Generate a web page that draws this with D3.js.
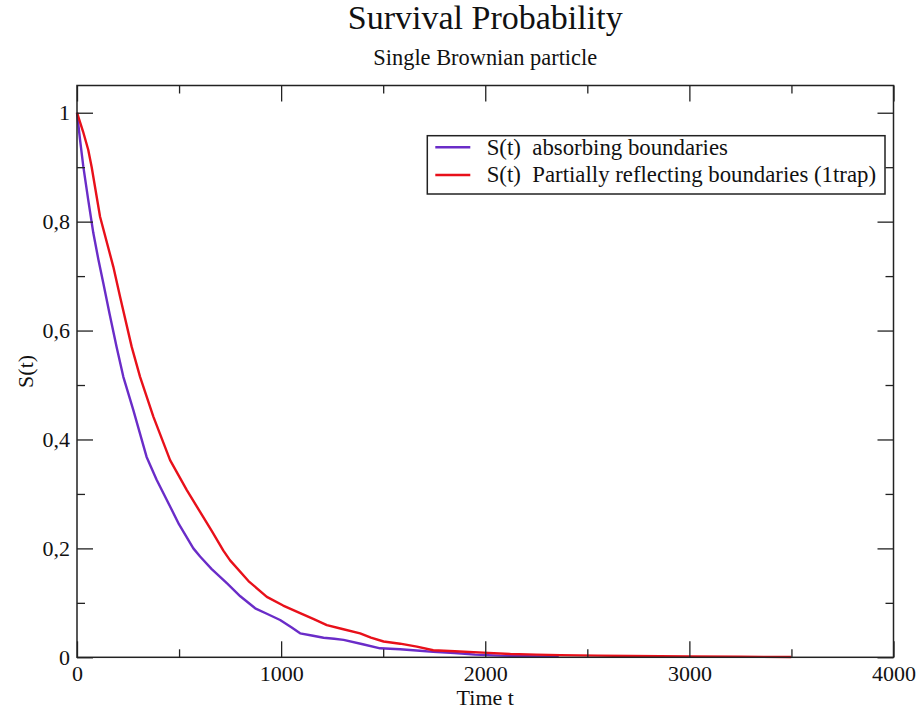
<!DOCTYPE html>
<html>
<head>
<meta charset="utf-8">
<script src="https://cdn.jsdelivr.net/npm/d3@7"></script>
<style>
  html, body { margin: 0; padding: 0; background: #fff; }
  svg { display: block; }
  text { font-family: "Liberation Serif", "DejaVu Serif", serif; fill: #111; }
</style>
</head>
<body>
<svg id="chart" width="920" height="713"></svg>
<script>
// Survival probability of a single Brownian particle
const absorbingTime = [0, 15, 31, 55, 80, 105, 129, 160, 194, 227, 276, 341, 390, 440, 500, 570, 603, 660, 734, 800, 873, 930, 995, 1050, 1093, 1150, 1208, 1260, 1306, 1400, 1485, 1583, 1680, 1745, 1850, 1950, 2073, 2200, 2360];
const absorbingS    = [1.0, 0.95, 0.901, 0.84, 0.779, 0.73, 0.687, 0.63, 0.570, 0.515, 0.454, 0.368, 0.326, 0.289, 0.244, 0.200, 0.185, 0.162, 0.136, 0.112, 0.090, 0.080, 0.0685, 0.055, 0.044, 0.040, 0.036, 0.034, 0.032, 0.024, 0.0165, 0.0147, 0.012, 0.010, 0.008, 0.005, 0.003, 0.002, 0.001];

const reflectingTime = [0, 30, 55, 72, 113, 178, 211, 268, 309, 374, 456, 538, 603, 660, 717, 750, 840, 930, 1010, 1093, 1160, 1224, 1300, 1387, 1440, 1502, 1583, 1665, 1745, 1850, 1990, 2123, 2250, 2368, 2550, 2711, 3000, 3250, 3499];
const reflectingS    = [1.0, 0.965, 0.932, 0.90, 0.809, 0.717, 0.662, 0.570, 0.515, 0.442, 0.362, 0.307, 0.267, 0.232, 0.196, 0.178, 0.140, 0.111, 0.095, 0.081, 0.070, 0.059, 0.052, 0.044, 0.036, 0.029, 0.025, 0.0195, 0.013, 0.011, 0.0085, 0.006, 0.005, 0.004, 0.003, 0.0024, 0.0015, 0.001, 0.0005];

const seriesNames  = ["S(t)  absorbing boundaries", "S(t)  Partially reflecting boundaries (1trap)"];
const seriesColors = ["#6a2cc8", "#e8101a"];

const xTickValues = [0, 1000, 2000, 3000, 4000];
const xTickLabels = ["0", "1000", "2000", "3000", "4000"];
const xMinorTicks = [500, 1500, 2500, 3500];
const yTickValues = [0, 0.2, 0.4, 0.6, 0.8, 1];
const yTickLabels = ["0", "0,2", "0,4", "0,6", "0,8", "1"];
const yMinorTicks = [0.1, 0.3, 0.5, 0.7, 0.9];

const titleText    = "Survival Probability";
const subtitleText = "Single Brownian particle";
const xLabelText   = "Time t";
const yLabelText   = "S(t)";

const margin = { left: 77, right: 26.5, top: 85.5, bottom: 55.7 };
const W = 920, H = 713;
const iw = W - margin.left - margin.right;
const ih = H - margin.top - margin.bottom;

const svg = d3.select("#chart");
const g = svg.append("g").attr("transform", `translate(${margin.left},${margin.top})`);

const x = d3.scaleLinear().domain([0, 4000]).range([0, iw]);
const y = d3.scaleLinear().domain([0, 1.05]).range([ih, 0]);

// Curves
const line = d3.line().x(d => x(d[0])).y(d => y(d[1]));
const series = [
  d3.zip(absorbingTime, absorbingS),
  d3.zip(reflectingTime, reflectingS)
];
g.selectAll("path.curve")
  .data(series)
  .join("path")
  .attr("class", "curve")
  .attr("fill", "none")
  .attr("stroke", (d, i) => seriesColors[i])
  .attr("stroke-width", 2.4)
  .attr("stroke-linejoin", "round")
  .attr("d", line);

// Frame with inward ticks on all sides
const majorLen = 16, minorLen = 8;
function styleAxis(sel) {
  sel.select(".domain").remove();
  sel.selectAll(".tick line").attr("stroke", "#222").attr("stroke-width", 1.3);
  sel.selectAll(".tick text").style("font-size", "22px").style("font-family", "Liberation Serif, serif").attr("fill", "#111");
}

const labelFmtX = (d) => xTickLabels[xTickValues.indexOf(d)];
const labelFmtY = (d) => yTickLabels[yTickValues.indexOf(d)];

// bottom
g.append("g").attr("transform", `translate(0,${ih})`)
  .call(d3.axisBottom(x).tickValues(xTickValues).tickSize(-majorLen).tickPadding(8).tickFormat(labelFmtX))
  .call(styleAxis);
g.append("g").attr("transform", `translate(0,${ih})`)
  .call(d3.axisBottom(x).tickValues(xMinorTicks).tickSize(-minorLen).tickFormat(""))
  .call(styleAxis);
// top
g.append("g")
  .call(d3.axisTop(x).tickValues(xTickValues).tickSize(-majorLen).tickFormat(""))
  .call(styleAxis);
g.append("g")
  .call(d3.axisTop(x).tickValues(xMinorTicks).tickSize(-minorLen).tickFormat(""))
  .call(styleAxis);
// left
g.append("g")
  .call(d3.axisLeft(y).tickValues(yTickValues).tickSize(-majorLen).tickPadding(7).tickFormat(labelFmtY))
  .call(styleAxis);
g.append("g")
  .call(d3.axisLeft(y).tickValues(yMinorTicks).tickSize(-minorLen).tickFormat(""))
  .call(styleAxis);
// right
g.append("g").attr("transform", `translate(${iw},0)`)
  .call(d3.axisRight(y).tickValues(yTickValues).tickSize(-majorLen).tickFormat(""))
  .call(styleAxis);
g.append("g").attr("transform", `translate(${iw},0)`)
  .call(d3.axisRight(y).tickValues(yMinorTicks).tickSize(-minorLen).tickFormat(""))
  .call(styleAxis);

g.append("rect")
  .attr("x", 0).attr("y", 0).attr("width", iw).attr("height", ih)
  .attr("fill", "none").attr("stroke", "#222").attr("stroke-width", 1.5);

// Titles
const cx = margin.left + iw / 2;
svg.append("text").attr("x", cx).attr("y", 29).attr("text-anchor", "middle")
  .style("font-size", "34px").text(titleText);
svg.append("text").attr("x", cx).attr("y", 65).attr("text-anchor", "middle")
  .style("font-size", "22.4px").text(subtitleText);
svg.append("text").attr("x", cx).attr("y", 705).attr("text-anchor", "middle")
  .style("font-size", "22px").text(xLabelText);
svg.append("text")
  .attr("transform", `translate(33,${margin.top + ih / 2}) rotate(-90)`)
  .attr("text-anchor", "middle")
  .style("font-size", "22px").text(yLabelText);

// Legend
const lg = svg.append("g").attr("transform", "translate(427.3,135.7)");
lg.append("rect").attr("width", 457.7).attr("height", 58.3)
  .attr("fill", "#fff").attr("stroke", "#222").attr("stroke-width", 1.5);
seriesNames.forEach((name, i) => {
  const yy = 11.6 + i * 27.7;
  lg.append("line").attr("x1", 8).attr("x2", 43).attr("y1", yy).attr("y2", yy)
    .attr("stroke", seriesColors[i]).attr("stroke-width", 2.4);
  lg.append("text").attr("x", 59.4).attr("y", yy + 7.5)
    .style("font-size", "22.8px").attr("xml:space", "preserve").text(name);
});
</script>
</body>
</html>
